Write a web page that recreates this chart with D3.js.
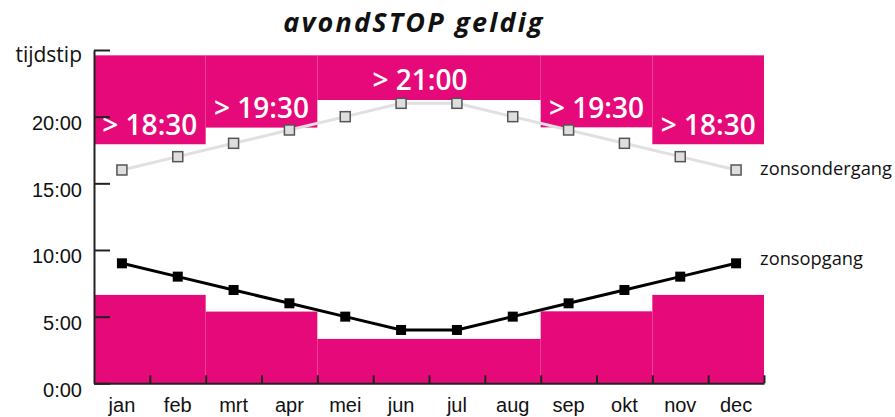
<!DOCTYPE html>
<html lang="nl">
<head>
    <meta charset="UTF-8">
    <title>avondSTOP geldig</title>
    <script src="https://d3js.org/d3.v7.min.js"></script>
    <style>
        body{
            margin:0;
            background-color: white;
        }
        svg{
            font-family: "Open Sans", sans-serif;
        }
        .axis path, .axis line{
            stroke:#222;
            stroke-width:2px;
        }
        .axis text{
            font-size:20px;
            fill:#111;
        }
    </style>
</head>
<body>
    <script>
        const w = 895;
        const h = 417;

        // data
        const months = ["jan","feb","mrt","apr","mei","jun","jul","aug","sep","okt","nov","dec"];
        const sunset = [16,17,18,19,20,21,21,20,19,18,17,16];
        const sunrise = [9,8,7,6,5,4,4,5,6,7,8,9];
        const periodFrom = ["jan","mrt","mei","sep","nov"];
        const periodTo = ["feb","apr","aug","okt","dec"];
        const eveningFrom = [17.93,19.18,21.25,19.2,17.93];
        const morningUntil = [6.63,5.38,3.33,5.4,6.63];
        const periodLabels = ["> 18:30","> 19:30","> 21:00","> 19:30","> 18:30"];
        const stopTop = 24.6;
        const yTicks = [0,5,10,15,20,25];
        const yTickLabels = ["0:00","5:00","10:00","15:00","20:00",""];

        const pink = "#e6097a";

        const svg = d3.select("body").append("svg").attr("width",w).attr("height",h);

        const x = d3.scaleBand().domain(months).range([94,764]);
        const xEdge = d3.scaleLinear().domain([0,months.length]).range([94,764]);
        const y = d3.scaleLinear().domain([0,25]).range([383.3,50]);

        const periods = periodFrom.map(function(f,i){
            return {
                x0: xEdge(months.indexOf(f)),
                x1: xEdge(months.indexOf(periodTo[i])+1),
                evening: eveningFrom[i],
                morning: morningUntil[i],
                label: periodLabels[i]
            };
        });

        // pink STOP blocks
        svg.selectAll("rect.top").data(periods).enter().append("rect")
            .attr("class","top")
            .attr("x",function(d){ return d.x0; })
            .attr("width",function(d){ return d.x1-d.x0; })
            .attr("y",y(stopTop))
            .attr("height",function(d){ return y(d.evening)-y(stopTop); })
            .attr("fill",pink);

        svg.selectAll("rect.bottom").data(periods).enter().append("rect")
            .attr("class","bottom")
            .attr("x",function(d){ return d.x0; })
            .attr("width",function(d){ return d.x1-d.x0; })
            .attr("y",function(d){ return y(d.morning); })
            .attr("height",function(d){ return y(0)-y(d.morning); })
            .attr("fill",pink);

        svg.selectAll("text.plabel").data(periods).enter().append("text")
            .attr("class","plabel")
            .attr("x",function(d){ return (d.x0+d.x1)/2 - (d.x1-d.x0 > 150 ? 9 : 0); })
            .attr("y",function(d){ return y(d.evening)-9.5; })
            .attr("text-anchor","middle")
            .attr("fill","white")
            .attr("font-size","28px")
            .attr("font-weight",600)
            .text(function(d){ return d.label; });

        // lines
        const line = d3.line()
            .x(function(d,i){ return x(months[i])+x.bandwidth()/2; })
            .y(function(d){ return y(d); });

        svg.append("path").datum(sunset).attr("d",line)
            .attr("fill","none").attr("stroke","#e0e0e0").attr("stroke-width",3);
        svg.append("path").datum(sunrise).attr("d",line)
            .attr("fill","none").attr("stroke","#000").attr("stroke-width",3);

        const ms = 10;
        svg.selectAll("rect.set").data(sunset).enter().append("rect")
            .attr("class","set")
            .attr("x",function(d,i){ return x(months[i])+x.bandwidth()/2-ms/2; })
            .attr("y",function(d){ return y(d)-ms/2; })
            .attr("width",ms).attr("height",ms)
            .attr("fill","#dedede").attr("stroke","#555").attr("stroke-width",1.5);

        svg.selectAll("rect.rise").data(sunrise).enter().append("rect")
            .attr("class","rise")
            .attr("x",function(d,i){ return x(months[i])+x.bandwidth()/2-ms/2; })
            .attr("y",function(d){ return y(d)-ms/2; })
            .attr("width",ms).attr("height",ms)
            .attr("fill","#000");

        // series labels
        const lastX = x(months[months.length-1])+x.bandwidth()/2+24;
        svg.append("text").attr("x",lastX).attr("y",y(sunset[sunset.length-1]))
            .attr("dy","0.3em").attr("font-size","18.3px").attr("fill","#111").text("zonsondergang");
        svg.append("text").attr("x",lastX).attr("y",y(sunrise[sunrise.length-1]))
            .attr("dy","0.1em").attr("font-size","18.3px").attr("fill","#111").text("zonsopgang");

        // axes
        const yaxis = d3.axisLeft(y).tickValues(yTicks)
            .tickFormat(function(d,i){ return yTickLabels[i]; })
            .tickSize(-16).tickSizeOuter(0).tickPadding(12);
        const gy = svg.append("g").attr("class","axis").attr("transform","translate(94,0)").call(yaxis);
        gy.selectAll(".tick text").attr("dy","0.64em");

        const xticks = d3.axisBottom(xEdge).tickValues(d3.range(1,months.length+1))
            .tickFormat("").tickSize(-8).tickSizeOuter(0);
        svg.append("g").attr("class","axis").attr("transform","translate(0,"+y(0)+")").call(xticks);

        const xlabels = d3.axisBottom(x).tickSize(0).tickPadding(15);
        const gx = svg.append("g").attr("class","axis").attr("transform","translate(0,"+y(0)+")").call(xlabels);
        gx.select(".domain").remove();

        svg.append("text").attr("x",82).attr("y",62).attr("text-anchor","end")
            .attr("font-size","21px").attr("fill","#111").text("tijdstip");

        svg.append("text").attr("x",414).attr("y",32).attr("text-anchor","middle")
            .attr("font-size","27px").attr("font-weight","bold").attr("font-style","italic")
            .attr("letter-spacing","2.2px").attr("fill","#111").text("avondSTOP geldig");
    </script>
</body>
</html>
